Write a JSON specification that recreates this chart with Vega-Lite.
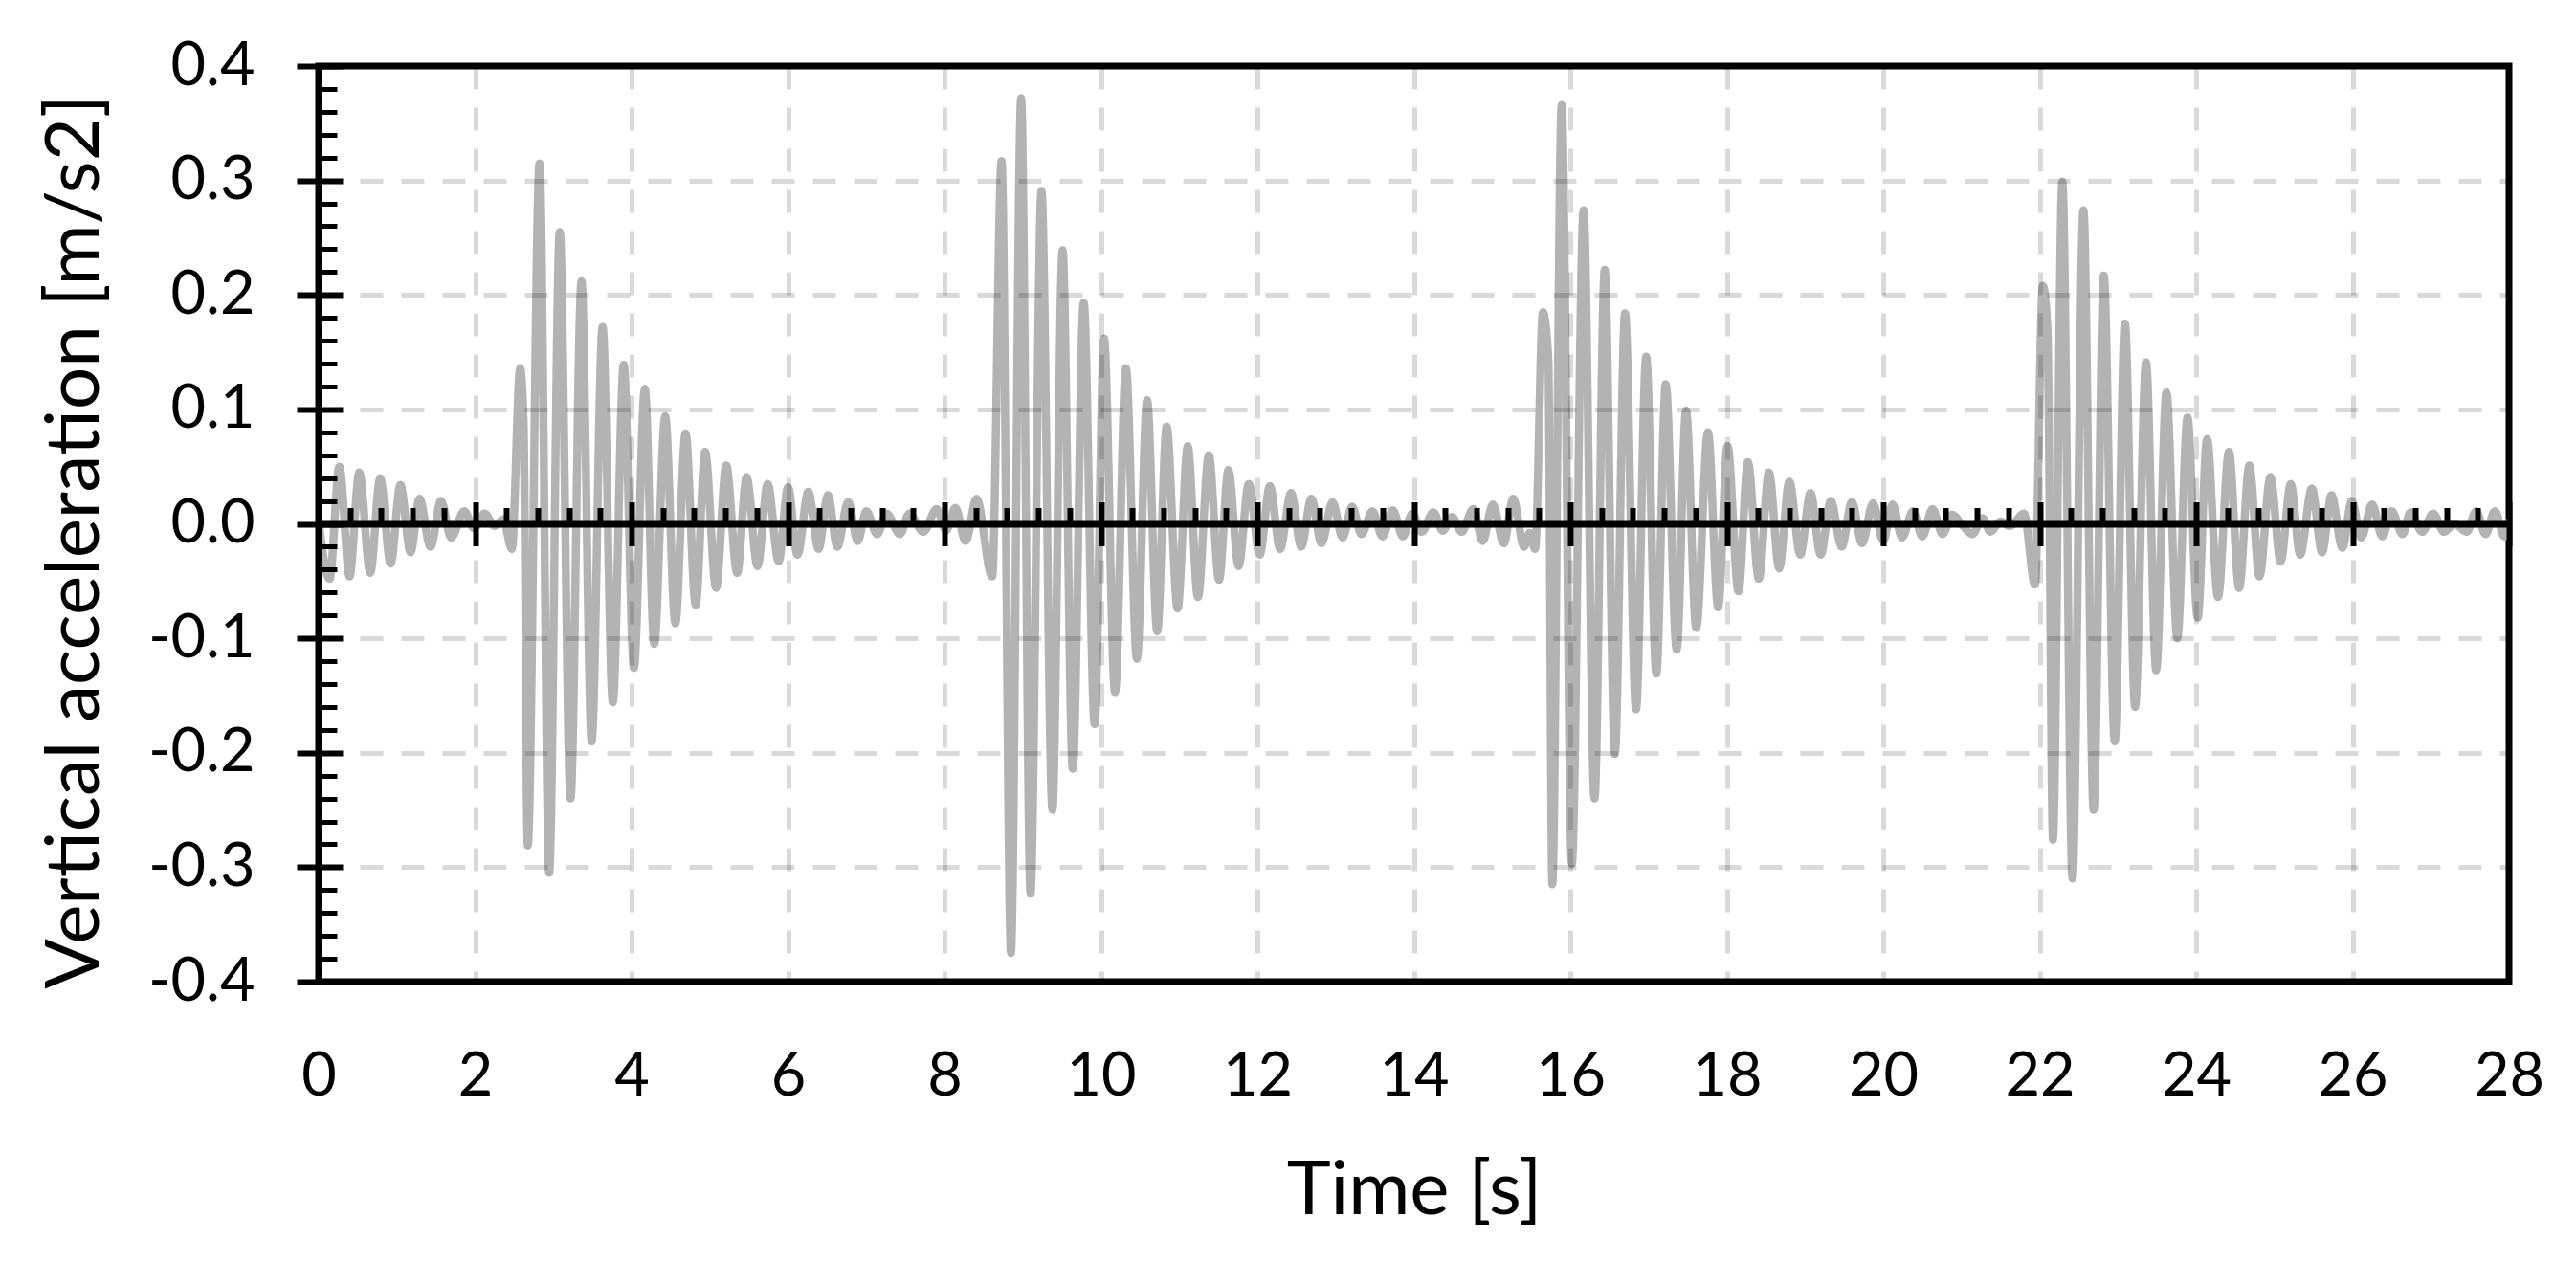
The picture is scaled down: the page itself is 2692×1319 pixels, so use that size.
{
  "$schema": "https://vega.github.io/schema/vega-lite/v6.json",
  "width": 2289,
  "height": 957,
  "autosize": "none",
  "padding": {"left": 333, "top": 69, "right": 70, "bottom": 293},
  "background": "white",
  "config": {"view": {"stroke": "black", "strokeWidth": 7}, "font": "Lato"},
  "datasets": {
    "acc": [
      {"t": 0, "a": 0.002}, {"t": 0.14, "a": -0.048}, {"t": 0.265, "a": 0.05},
      {"t": 0.395, "a": -0.046}, {"t": 0.52, "a": 0.045}, {"t": 0.66, "a": -0.043}, {"t": 0.787, "a": 0.04},
      {"t": 0.92, "a": -0.035}, {"t": 1.045, "a": 0.034}, {"t": 1.175, "a": -0.025}, {"t": 1.29, "a": 0.022},
      {"t": 1.43, "a": -0.02}, {"t": 1.565, "a": 0.02}, {"t": 1.694, "a": -0.012}, {"t": 1.86, "a": 0.011},
      {"t": 1.99, "a": -0.004}, {"t": 2.122, "a": 0.009}, {"t": 2.25, "a": -0.002}, {"t": 2.36, "a": 0.004},
      {"t": 2.47, "a": -0.022}, {"t": 2.576, "a": 0.136}, {"t": 2.62, "a": 0.09}, {"t": 2.673, "a": -0.281},
      {"t": 2.824, "a": 0.315}, {"t": 2.947, "a": -0.305}, {"t": 3.082, "a": 0.255}, {"t": 3.22, "a": -0.24},
      {"t": 3.36, "a": 0.212}, {"t": 3.49, "a": -0.19}, {"t": 3.63, "a": 0.172}, {"t": 3.76, "a": -0.156},
      {"t": 3.9, "a": 0.139}, {"t": 4.03, "a": -0.126}, {"t": 4.17, "a": 0.118}, {"t": 4.29, "a": -0.105},
      {"t": 4.43, "a": 0.094}, {"t": 4.56, "a": -0.087}, {"t": 4.69, "a": 0.079}, {"t": 4.82, "a": -0.071},
      {"t": 4.94, "a": 0.063}, {"t": 5.08, "a": -0.056}, {"t": 5.21, "a": 0.051}, {"t": 5.35, "a": -0.043},
      {"t": 5.47, "a": 0.041}, {"t": 5.61, "a": -0.037}, {"t": 5.74, "a": 0.035}, {"t": 5.88, "a": -0.033},
      {"t": 6.0, "a": 0.032}, {"t": 6.12, "a": -0.027}, {"t": 6.26, "a": 0.028}, {"t": 6.39, "a": -0.022},
      {"t": 6.51, "a": 0.025}, {"t": 6.63, "a": -0.02}, {"t": 6.77, "a": 0.019}, {"t": 6.89, "a": -0.015},
      {"t": 7.0, "a": 0.011}, {"t": 7.14, "a": -0.009}, {"t": 7.26, "a": 0.009}, {"t": 7.43, "a": -0.009},
      {"t": 7.55, "a": 0.009}, {"t": 7.73, "a": -0.007}, {"t": 7.9, "a": 0.013}, {"t": 8.02, "a": -0.006},
      {"t": 8.14, "a": 0.014}, {"t": 8.27, "a": -0.015}, {"t": 8.41, "a": 0.022}, {"t": 8.61, "a": -0.046},
      {"t": 8.73, "a": 0.317}, {"t": 8.85, "a": -0.375}, {"t": 8.98, "a": 0.372}, {"t": 9.1, "a": -0.323},
      {"t": 9.24, "a": 0.291}, {"t": 9.38, "a": -0.25}, {"t": 9.51, "a": 0.239}, {"t": 9.64, "a": -0.214},
      {"t": 9.78, "a": 0.193}, {"t": 9.92, "a": -0.175}, {"t": 10.04, "a": 0.162}, {"t": 10.18, "a": -0.147},
      {"t": 10.32, "a": 0.136}, {"t": 10.46, "a": -0.118}, {"t": 10.59, "a": 0.108}, {"t": 10.72, "a": -0.094},
      {"t": 10.84, "a": 0.085}, {"t": 10.98, "a": -0.074}, {"t": 11.11, "a": 0.068}, {"t": 11.24, "a": -0.064},
      {"t": 11.38, "a": 0.06}, {"t": 11.51, "a": -0.049}, {"t": 11.63, "a": 0.047}, {"t": 11.76, "a": -0.037},
      {"t": 11.89, "a": 0.035}, {"t": 12.03, "a": -0.027}, {"t": 12.16, "a": 0.033}, {"t": 12.29, "a": -0.022},
      {"t": 12.43, "a": 0.027}, {"t": 12.56, "a": -0.02}, {"t": 12.69, "a": 0.022}, {"t": 12.82, "a": -0.017},
      {"t": 12.96, "a": 0.019}, {"t": 13.09, "a": -0.012}, {"t": 13.21, "a": 0.015}, {"t": 13.33, "a": -0.009},
      {"t": 13.47, "a": 0.011}, {"t": 13.6, "a": -0.011}, {"t": 13.73, "a": 0.012}, {"t": 13.86, "a": -0.011},
      {"t": 13.98, "a": 0.009}, {"t": 14.1, "a": -0.007}, {"t": 14.25, "a": 0.01}, {"t": 14.37, "a": -0.006},
      {"t": 14.49, "a": 0.006}, {"t": 14.61, "a": -0.007}, {"t": 14.76, "a": 0.013}, {"t": 14.88, "a": -0.015},
      {"t": 15.01, "a": 0.017}, {"t": 15.15, "a": -0.017}, {"t": 15.27, "a": 0.022}, {"t": 15.41, "a": -0.02},
      {"t": 15.48, "a": -0.008}, {"t": 15.55, "a": -0.022}, {"t": 15.65, "a": 0.185}, {"t": 15.72, "a": 0.143},
      {"t": 15.77, "a": -0.315}, {"t": 15.89, "a": 0.366}, {"t": 16.02, "a": -0.297}, {"t": 16.17, "a": 0.274},
      {"t": 16.31, "a": -0.24}, {"t": 16.44, "a": 0.222}, {"t": 16.57, "a": -0.201}, {"t": 16.7, "a": 0.184},
      {"t": 16.84, "a": -0.162}, {"t": 16.97, "a": 0.146}, {"t": 17.1, "a": -0.131}, {"t": 17.22, "a": 0.122},
      {"t": 17.36, "a": -0.11}, {"t": 17.48, "a": 0.099}, {"t": 17.61, "a": -0.091}, {"t": 17.76, "a": 0.08},
      {"t": 17.89, "a": -0.073}, {"t": 18.01, "a": 0.068}, {"t": 18.15, "a": -0.059}, {"t": 18.27, "a": 0.054},
      {"t": 18.41, "a": -0.048}, {"t": 18.54, "a": 0.045}, {"t": 18.67, "a": -0.039}, {"t": 18.8, "a": 0.037},
      {"t": 18.94, "a": -0.027}, {"t": 19.07, "a": 0.027}, {"t": 19.2, "a": -0.027}, {"t": 19.33, "a": 0.02},
      {"t": 19.47, "a": -0.02}, {"t": 19.6, "a": 0.019}, {"t": 19.73, "a": -0.017}, {"t": 19.87, "a": 0.018},
      {"t": 20.0, "a": -0.015}, {"t": 20.12, "a": 0.017}, {"t": 20.24, "a": -0.012}, {"t": 20.38, "a": 0.011},
      {"t": 20.5, "a": -0.011}, {"t": 20.63, "a": 0.013}, {"t": 20.76, "a": -0.009}, {"t": 20.88, "a": 0.008},
      {"t": 21.02, "a": -0.002}, {"t": 21.14, "a": -0.009}, {"t": 21.27, "a": 0.005}, {"t": 21.37, "a": -0.007},
      {"t": 21.5, "a": 0.002}, {"t": 21.62, "a": -0.002}, {"t": 21.8, "a": 0.009}, {"t": 21.94, "a": -0.053},
      {"t": 22.04, "a": 0.208}, {"t": 22.1, "a": 0.17}, {"t": 22.17, "a": -0.276}, {"t": 22.29, "a": 0.299},
      {"t": 22.42, "a": -0.31}, {"t": 22.56, "a": 0.274}, {"t": 22.69, "a": -0.25}, {"t": 22.82, "a": 0.217},
      {"t": 22.96, "a": -0.19}, {"t": 23.09, "a": 0.175}, {"t": 23.22, "a": -0.16}, {"t": 23.36, "a": 0.141},
      {"t": 23.49, "a": -0.128}, {"t": 23.62, "a": 0.115}, {"t": 23.76, "a": -0.1}, {"t": 23.89, "a": 0.093},
      {"t": 24.02, "a": -0.082}, {"t": 24.14, "a": 0.074}, {"t": 24.28, "a": -0.064}, {"t": 24.42, "a": 0.063},
      {"t": 24.55, "a": -0.056}, {"t": 24.68, "a": 0.051}, {"t": 24.81, "a": -0.046}, {"t": 24.95, "a": 0.041},
      {"t": 25.08, "a": -0.033}, {"t": 25.21, "a": 0.035}, {"t": 25.33, "a": -0.027}, {"t": 25.48, "a": 0.031},
      {"t": 25.61, "a": -0.025}, {"t": 25.73, "a": 0.025}, {"t": 25.87, "a": -0.021}, {"t": 25.99, "a": 0.02},
      {"t": 26.11, "a": -0.012}, {"t": 26.25, "a": 0.017}, {"t": 26.38, "a": -0.011}, {"t": 26.5, "a": 0.011},
      {"t": 26.64, "a": -0.009}, {"t": 26.74, "a": 0.01}, {"t": 26.89, "a": -0.007}, {"t": 27.03, "a": 0.009},
      {"t": 27.17, "a": -0.007}, {"t": 27.3, "a": 0.0}, {"t": 27.46, "a": -0.007}, {"t": 27.58, "a": 0.011},
      {"t": 27.7, "a": -0.009}, {"t": 27.82, "a": 0.011}, {"t": 27.94, "a": -0.011}, {"t": 28.0, "a": 0.004}
    ],
    "anchor": [{"t": 0, "a": 0}]
  },
  "layer": [
    {
      "data": {"name": "acc"},
      "mark": {"type": "line", "color": "#b3b3b3", "strokeWidth": 8.5, "interpolate": "monotone", "clip": true, "strokeJoin": "round"},
      "encoding": {
        "x": {
          "field": "t", "type": "quantitative",
          "scale": {"domain": [0, 28], "nice": false, "zero": false},
          "axis": {
            "orient": "bottom",
            "values": [0, 2, 4, 6, 8, 10, 12, 14, 16, 18, 20, 22, 24, 26, 28],
            "format": "d",
            "labelFontSize": 63, "labelColor": "black", "labelFlush": false, "labelOverlap": false,
            "labelPadding": 118, "labelBaseline": "alphabetic",
            "ticks": false, "domain": false,
            "grid": true, "gridColor": "black", "gridOpacity": 0.15, "gridWidth": 5, "gridDash": [24, 19],
            "title": "Time [s]", "titleFontSize": 78, "titleFontWeight": "normal", "titleColor": "black",
            "titleBaseline": "alphabetic", "titleAlign": "center", "titleX": 1144.5, "titleY": 242,
            "zindex": 1
          }
        },
        "y": {
          "field": "a", "type": "quantitative",
          "scale": {"domain": [-0.4, 0.4], "nice": false, "zero": false},
          "axis": {
            "orient": "left",
            "values": [-0.4, -0.3, -0.2, -0.1, 0, 0.1, 0.2, 0.3, 0.4],
            "labelExpr": "datum.value < -0.0001 ? '-' + format(-datum.value, '.1f') : format(abs(datum.value), '.1f')",
            "labelFontSize": 63, "labelColor": "black", "labelPadding": 44, "labelOverlap": false, "labelBaseline": "middle",
            "ticks": true, "tickSize": 23, "tickWidth": 6, "tickColor": "black",
            "domain": true, "domainColor": "black", "domainWidth": 7,
            "grid": true, "gridColor": "black", "gridOpacity": 0.15, "gridWidth": 5, "gridDash": [24, 19],
            "title": "Vertical acceleration [m/s2]", "titleFontSize": 78, "titleFontWeight": "normal", "titleColor": "black",
            "titleAngle": -90, "titleBaseline": "alphabetic", "titleAlign": "center", "titleX": -231, "titleY": 497,
            "zindex": 1
          }
        }
      }
    },
    {
      "data": {"name": "anchor"},
      "mark": {"type": "point", "opacity": 0},
      "encoding": {
        "x": {
          "field": "t", "type": "quantitative",
          "axis": {
            "orient": "bottom", "offset": -478.5,
            "values": [0, 2, 4, 6, 8, 10, 12, 14, 16, 18, 20, 22, 24, 26, 28],
            "labels": false, "grid": false, "title": null,
            "domain": true, "domainColor": "black", "domainWidth": 7,
            "ticks": true, "tickSize": 23, "tickWidth": 6, "tickColor": "black",
            "zindex": 2
          }
        },
        "y": {
          "field": "a", "type": "quantitative",
          "axis": {
            "orient": "left",
            "values": [-0.38, -0.36, -0.34, -0.32, -0.28, -0.26, -0.24, -0.22, -0.18, -0.16, -0.14, -0.12, -0.08, -0.06, -0.04, -0.02, 0.02, 0.04, 0.06, 0.08, 0.12, 0.14, 0.16, 0.18, 0.22, 0.24, 0.26, 0.28, 0.32, 0.34, 0.36, 0.38],
            "labels": false, "grid": false, "title": null, "domain": false,
            "ticks": true, "tickSize": -19, "tickWidth": 5, "tickColor": "black",
            "zindex": 2
          }
        }
      }
    },
    {
      "data": {"name": "anchor"},
      "mark": {"type": "point", "opacity": 0},
      "encoding": {
        "x": {
          "field": "t", "type": "quantitative",
          "axis": {
            "orient": "bottom", "offset": -478.5,
            "values": [0, 2, 4, 6, 8, 10, 12, 14, 16, 18, 20, 22, 24, 26, 28],
            "labels": false, "grid": false, "title": null, "domain": false,
            "ticks": true, "tickSize": -23, "tickWidth": 6, "tickColor": "black",
            "zindex": 2
          }
        },
        "y": {
          "field": "a", "type": "quantitative",
          "axis": {
            "orient": "left",
            "values": [-0.4, -0.3, -0.2, -0.1, 0, 0.1, 0.2, 0.3, 0.4],
            "labels": false, "grid": false, "title": null, "domain": false,
            "ticks": true, "tickSize": -25, "tickWidth": 6, "tickColor": "black",
            "zindex": 2
          }
        }
      }
    },
    {
      "data": {"name": "anchor"},
      "mark": {"type": "point", "opacity": 0},
      "encoding": {
        "x": {
          "field": "t", "type": "quantitative",
          "axis": {
            "orient": "bottom", "offset": -478.5,
            "values": [0.4, 0.8, 1.2, 1.6, 2.4, 2.8, 3.2, 3.6, 4.4, 4.8, 5.2, 5.6, 6.4, 6.8, 7.2, 7.6, 8.4, 8.8, 9.2, 9.6, 10.4, 10.8, 11.2, 11.6, 12.4, 12.8, 13.2, 13.6, 14.4, 14.8, 15.2, 15.6, 16.4, 16.8, 17.2, 17.6, 18.4, 18.8, 19.2, 19.6, 20.4, 20.8, 21.2, 21.6, 22.4, 22.8, 23.2, 23.6, 24.4, 24.8, 25.2, 25.6, 26.4, 26.8, 27.2, 27.6],
            "labels": false, "grid": false, "title": null, "domain": false,
            "ticks": true, "tickSize": -17, "tickWidth": 6, "tickColor": "black",
            "zindex": 2
          }
        },
        "y": {"field": "a", "type": "quantitative", "axis": null}
      }
    }
  ],
  "resolve": {"axis": {"x": "independent", "y": "independent"}}
}
